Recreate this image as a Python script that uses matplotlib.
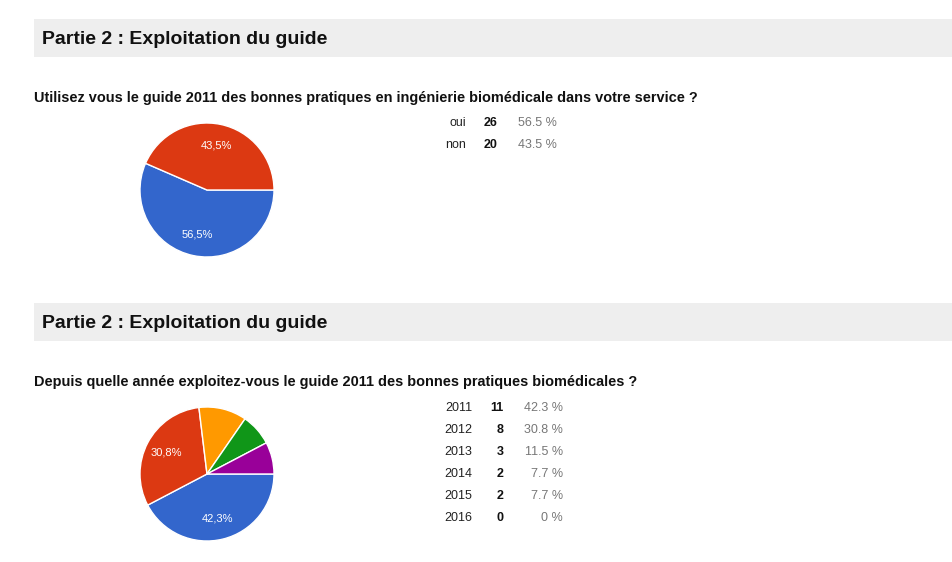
import matplotlib.pyplot as plt
from matplotlib.patches import Rectangle

plt.rcParams['font.family'] = ['Liberation Sans', 'DejaVu Sans']

# ---------------- data ----------------
section_title = 'Partie 2 : Exploitation du guide'

q1_title  = 'Utilisez vous le guide 2011 des bonnes pratiques en ingénierie biomédicale dans votre service ?'
q1_labels = ['oui', 'non']
q1_counts = [26, 20]
q1_pct    = ['56.5 %', '43.5 %']

q2_title  = 'Depuis quelle année exploitez-vous le guide 2011 des bonnes pratiques biomédicales ?'
q2_labels = ['2011', '2012', '2013', '2014', '2015', '2016']
q2_counts = [11, 8, 3, 2, 2, 0]
q2_pct    = ['42.3 %', '30.8 %', '11.5 %', '7.7 %', '7.7 %', '0 %']

colors = ['#3366cc', '#dc3912', '#ff9900', '#109618', '#990099', '#0099c6']

W, H = 953, 562
fig = plt.figure(figsize=(W / 100, H / 100), dpi=100)
fig.patch.set_facecolor('white')


def px(x, y):
    # pixel coords (top-left origin) -> figure fraction
    return x / W, 1 - y / H


def header(ytop):
    fig.patches.append(Rectangle(px(34, ytop + 38), (W - 34) / W, 38 / H,
                                 transform=fig.transFigure, facecolor='#eeeeee',
                                 edgecolor='none', zorder=0))
    fig.text(*px(42, ytop + 21), section_title, fontsize=14, fontweight='bold',
             va='center', ha='left', color='#111111')


def pie_block(cy, counts, labels, pct, title, ty, row_y, lab_x, cnt_x, pct_x):
    fig.text(*px(34, ty), title, fontsize=10.45, fontweight='bold', va='center', color='#111111')
    r = 67
    ax = fig.add_axes([(207 - r) / W, 1 - (cy + r) / H, 2 * r / W, 2 * r / H])
    vals = [c for c in counts if c > 0]

    def fmt(p):
        return ('%.1f%%' % p).replace('.', ',') if p > 20 else ''

    wedges, texts, autotexts = ax.pie(vals, colors=colors[:len(vals)], startangle=0,
                                      counterclock=False, autopct=fmt, pctdistance=0.68,
                                      wedgeprops=dict(edgecolor='white', linewidth=1),
                                      textprops=dict(color='white', fontsize=8))
    ax.set_aspect('equal')
    ax.set_xlim(-1.0, 1.0)
    ax.set_ylim(-1.0, 1.0)
    ax.axis('off')

    for i, lab in enumerate(labels):
        y = row_y + 22 * i
        fig.text(*px(lab_x, y), lab, fontsize=9, ha='right', va='center', color='#222222')
        fig.text(*px(cnt_x, y), str(counts[i]), fontsize=9, fontweight='bold',
                 ha='right', va='center', color='#111111')
        fig.text(*px(pct_x, y), pct[i], fontsize=9, ha='right', va='center', color='#777777')


header(19)
pie_block(190, q1_counts, q1_labels, q1_pct, q1_title, 98, 123, 466, 498, 557)

header(303)
pie_block(474, q2_counts, q2_labels, q2_pct, q2_title, 382, 408, 472, 504, 563)

fig.savefig('out.png', dpi=100, facecolor='white')
